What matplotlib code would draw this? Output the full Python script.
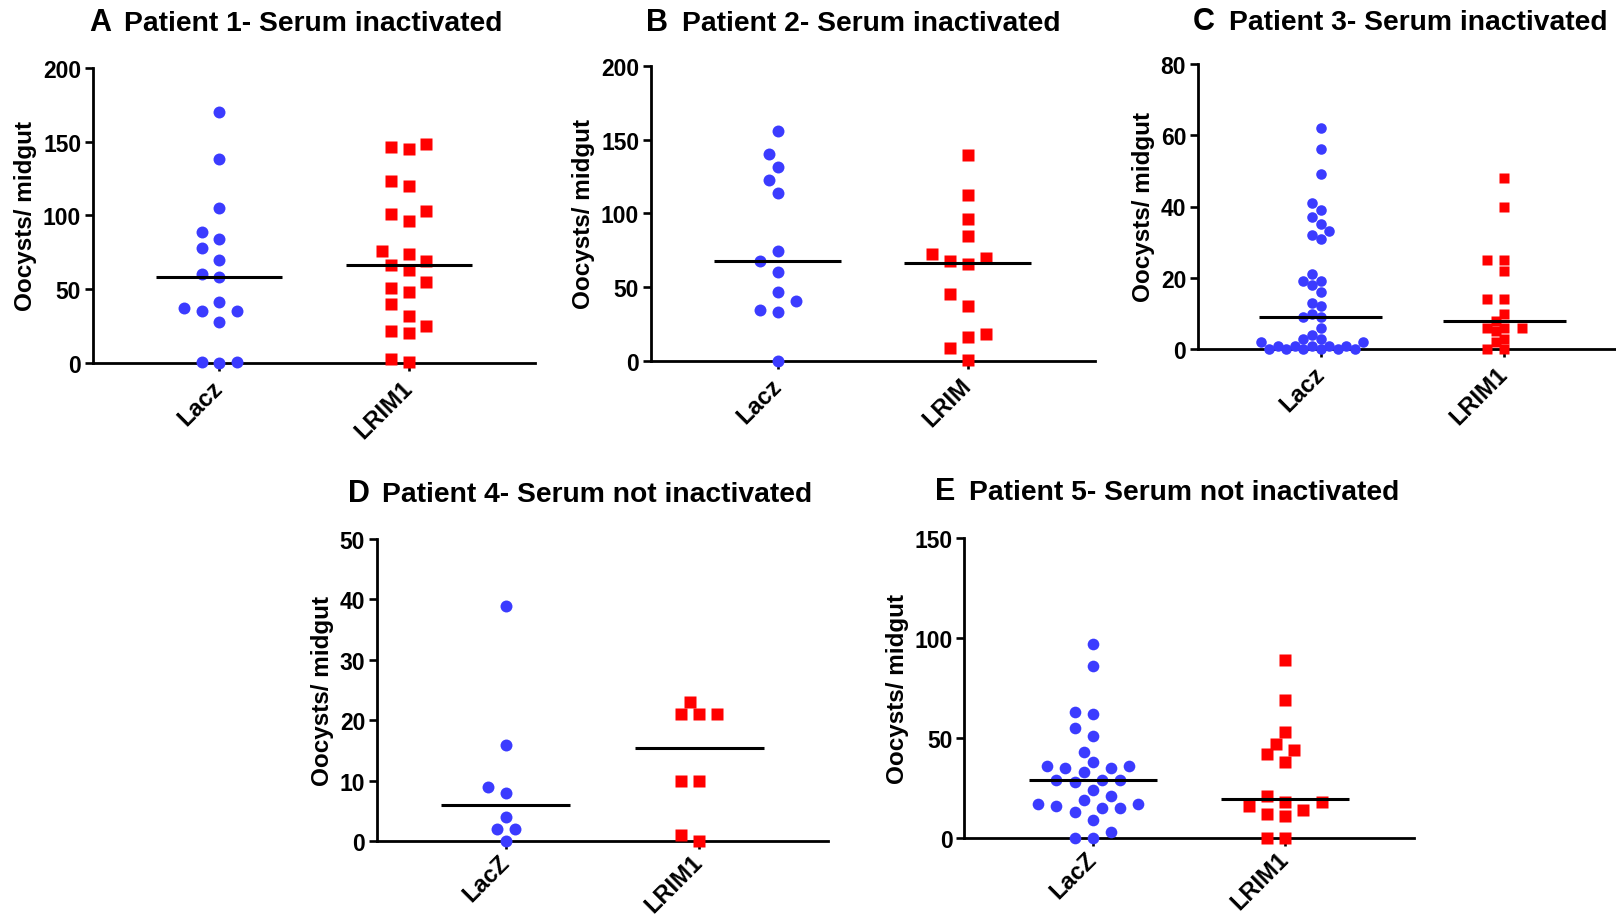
import numpy as np
import matplotlib.pyplot as plt

plt.rcParams['font.family'] = ['Liberation Sans', 'DejaVu Sans']
plt.rcParams['font.weight'] = 'bold'

W, H = 1616, 920

# oocysts per midgut, one list per group
p1_lacz = [170, 138, 105, 89, 84, 78, 70, 60, 58.5, 41.5, 37.5, 35, 35, 28, 1, 0, 1]
p1_lrim = [146, 145, 148, 120, 123, 101, 103, 96, 76, 74, 69, 66.5, 63, 55, 51, 48,
           40, 32, 22, 25, 20, 1, 3]
p2_lacz = [155.5, 140.5, 131.5, 122.5, 113.5, 74.5, 67.5, 60.5, 46.5, 40.5, 34.5, 33.5, 0]
p2_lrim = [139.5, 112.5, 96.5, 84.5, 72.5, 69.5, 67.5, 65.5, 45.5, 37.5, 18, 16.5, 9, 1]
p3_lacz = [62, 56, 49, 41, 39, 37, 35, 33, 32, 31, 21, 19, 19, 18, 16, 13, 12, 10, 9, 9,
           6, 4, 3, 3, 2, 2, 1, 1, 1, 1, 1, 0, 0, 0, 0, 0, 0]
p3_lrim = [48, 40, 25, 25, 22, 14, 14, 10, 8, 6, 6, 6, 5, 3, 2, 0, 0]
p4_lacz = [39, 16, 9, 8, 4, 2, 2, 0]
p4_lrim = [23, 21, 21, 21, 10, 10, 1, 0]
p5_lacz = [97, 86, 63, 62, 55, 51, 43, 38, 36, 35, 35, 36, 33, 29, 29, 28, 29, 24, 21,
           19, 17, 16, 17, 15, 15, 13, 9, 3, 0, 0]
p5_lrim = [89, 69, 53, 47, 44, 42, 38, 21, 18, 16, 18, 14, 12, 11, 0, 0]

letters = ['A', 'B', 'C', 'D', 'E']
titles = ['Patient 1- Serum inactivated', 'Patient 2- Serum inactivated',
          'Patient 3- Serum inactivated', 'Patient 4- Serum not inactivated',
          'Patient 5- Serum not inactivated']
xlabels = [['Lacz', 'LRIM1'], ['Lacz', 'LRIM'], ['Lacz', 'LRIM1'],
           ['LacZ', 'LRIM1'], ['LacZ', 'LRIM1']]
ymax = [200, 200, 80, 50, 150]
ystep = [50, 50, 20, 10, 50]
groups = [(p1_lacz, p1_lrim), (p2_lacz, p2_lrim), (p3_lacz, p3_lrim),
          (p4_lacz, p4_lrim), (p5_lacz, p5_lrim)]

# panel boxes in pixels: left, top, width, height
boxes = [(93, 68.7, 442, 295.3), (651, 66.7, 443.5, 295.3), (1198, 64.7, 429, 285.6),
         (377, 540, 451, 302.3), (964.3, 538.7, 449.4, 300.6)]
# letter x, title x, baseline y (pixels)
heads = [(89, 124.4, 31), (646, 682, 31), (1193, 1229, 30),
         (347.6, 381.8, 502), (935, 969, 500)]
# swarm spacing (px): column step, min distance, marker size
spacing = [(8.9, 15, 8.6), (8.9, 15, 8.6), (8.55, 9, 7.6), (9.0, 15, 8.6), (9.1, 13, 8.4)]

XLIM = (-0.667, 1.667)


def swarm(values, ppu_y, step, min_dist):
    # greedy beeswarm: lowest values first, nearest free column to the centre
    values = np.asarray(values, dtype=float)
    offs = np.zeros(len(values))
    placed = []
    for i in np.argsort(values, kind='stable'):
        y = values[i] * ppu_y
        for n in range(60):
            ok = False
            for k in ([0] if n == 0 else [-n, n]):
                x = k * step
                if all((x - px) ** 2 + (y - py) ** 2 >= min_dist ** 2 for px, py in placed):
                    ok = True
                    break
            if ok:
                break
        placed.append((x, y))
        offs[i] = x
    return offs


fig = plt.figure(figsize=(W / 100, H / 100), dpi=100)

for p in range(5):
    left, top, w, h = boxes[p]
    ax = fig.add_axes([left / W, 1 - (top + h) / H, w / W, h / H])
    ppu_x = w / (XLIM[1] - XLIM[0])
    ppu_y = h / ymax[p]
    step, mind, ms = spacing[p]

    for i, vals in enumerate(groups[p]):
        offs = swarm(vals, ppu_y, step, mind) / ppu_x
        x = i + offs
        if i == 0:
            ax.plot(x, vals, 'o', ms=ms, color='#3b3bff', mec='none',
                    clip_on=False, zorder=3)
        else:
            ax.plot(x, vals, 's', ms=ms * 0.98, color='#ff0000', mec='none',
                    clip_on=False, zorder=3)
        med = np.median(vals)
        ax.plot([i - 1 / 3, i + 1 / 3], [med, med], color='black', lw=2.2,
                solid_capstyle='butt', zorder=4)

    ax.set_xlim(*XLIM)
    ax.set_ylim(0, ymax[p])
    ax.set_yticks(np.arange(0, ymax[p] + 1, ystep[p]))
    ax.set_xticks([0, 1])
    ax.set_xticklabels(xlabels[p], rotation=45, ha='right', va='center',
                       rotation_mode='anchor', fontsize=17, fontweight='bold')
    for lab in ax.get_yticklabels():
        lab.set_fontsize(16.5)
        lab.set_fontweight('bold')
    ax.tick_params(axis='y', length=6, width=1.9, pad=2.5)
    ax.tick_params(axis='x', length=6, width=1.9, pad=9 if p < 3 else 6)
    for s in ['top', 'right']:
        ax.spines[s].set_visible(False)
    for s in ['left', 'bottom']:
        ax.spines[s].set_linewidth(2.0)
    ax.set_ylabel('Oocysts/ midgut', fontsize=17.5, fontweight='bold', labelpad=4)
    ax.patch.set_alpha(0)

    lx, tx, by = heads[p]
    fig.text(lx / W, 1 - by / H, letters[p], fontsize=22, fontweight='bold', va='baseline')
    fig.text(tx / W, 1 - by / H, titles[p], fontsize=20.3, fontweight='bold', va='baseline')

fig.savefig('out.png', dpi=100)
